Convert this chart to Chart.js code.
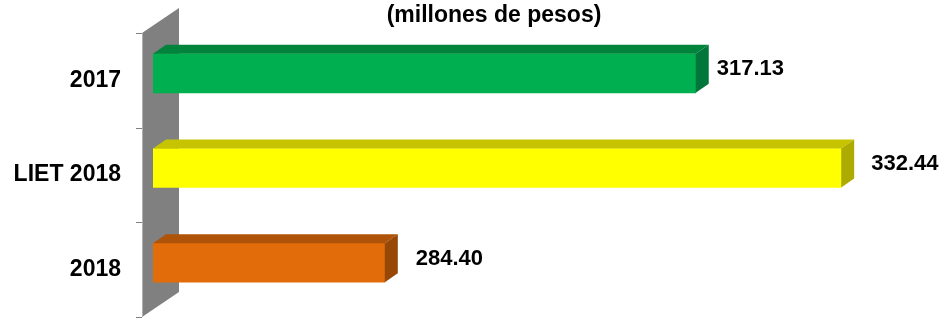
<!DOCTYPE html>
<html lang="es">
<head>
    <meta charset="UTF-8">
    <title>Comparativo (millones de pesos)</title>
    <script src="https://cdn.jsdelivr.net/npm/chart.js"></script>
    <style>
        body {
            margin: 0;
            background-color: #ffffff;
        }
        canvas {
            display: block;
        }
    </style>
</head>
<body>
    <canvas id="myChart" width="940" height="318"></canvas>

    <script>
        // Datos
        const categorias = ['2017', 'LIET 2018', '2018'];
        const montos = [317.13, 332.44, 284.40];
        const titulo = '(millones de pesos)';

        // Colores por barra: cara frontal, cara superior, cara lateral
        const coloresFrente = ['#00B050', '#FFFF00', '#E36C0A'];
        const coloresArriba = ['#00843C', '#C6C400', '#AF5308'];
        const coloresLado = ['#00763A', '#ADAB00', '#974806'];

        const fuente = 'Arial, "Liberation Sans", sans-serif';
        const prof = { dx: 13, dy: 9 };        // profundidad de las barras
        const pared = { dx: 37, dy: 25 };      // profundidad de la pared gris
        const desplazo = { dx: 11, dy: 7 };    // de la cara frontal al plano del eje
        const separacionEtiqueta = [21, 30, 31];

        const efecto3D = {
            id: 'efecto3D',
            // Pared gris, marcas del eje y titulo (antes de las barras)
            beforeDatasetsDraw(chart) {
                const ctx = chart.ctx;
                const area = chart.chartArea;
                const x0 = area.left - desplazo.dx;
                const yTop = area.top + desplazo.dy;
                const yBot = area.bottom + desplazo.dy;

                ctx.save();
                ctx.fillStyle = '#808080';
                ctx.beginPath();
                ctx.moveTo(x0, yTop);
                ctx.lineTo(x0 + pared.dx, yTop - pared.dy);
                ctx.lineTo(x0 + pared.dx, yBot - pared.dy);
                ctx.lineTo(x0, yBot);
                ctx.closePath();
                ctx.fill();

                ctx.strokeStyle = '#b0b0b0';
                ctx.lineWidth = 1;
                ctx.beginPath();
                ctx.moveTo(x0 + 0.5, yTop);
                ctx.lineTo(x0 + 0.5, yBot);
                ctx.stroke();

                // marcas entre categorías
                const n = categorias.length;
                const paso = (yBot - yTop) / n;
                ctx.strokeStyle = '#7f7f7f';
                for (let i = 0; i <= n; i++) {
                    const y = Math.round(yTop + i * paso) + 0.5;
                    ctx.beginPath();
                    ctx.moveTo(x0 - 6, y);
                    ctx.lineTo(x0, y);
                    ctx.stroke();
                }

                // titulo
                ctx.fillStyle = '#000000';
                ctx.font = 'bold 23px ' + fuente;
                ctx.textAlign = 'center';
                ctx.textBaseline = 'alphabetic';
                ctx.fillText(titulo, 494, 22);
                ctx.restore();
            },
            afterDatasetsDraw(chart) {
                const ctx = chart.ctx;
                const area = chart.chartArea;
                const meta = chart.getDatasetMeta(0);
                ctx.save();
                meta.data.forEach((bar, i) => {
                    const left = Math.max(bar.base, area.left);
                    const right = bar.x;
                    const top = bar.y - bar.height / 2;
                    const bottom = bar.y + bar.height / 2;

                    // cara superior
                    ctx.fillStyle = coloresArriba[i];
                    ctx.beginPath();
                    ctx.moveTo(left, top);
                    ctx.lineTo(left + prof.dx, top - prof.dy);
                    ctx.lineTo(right + prof.dx, top - prof.dy);
                    ctx.lineTo(right, top);
                    ctx.closePath();
                    ctx.fill();

                    // cara lateral
                    ctx.fillStyle = coloresLado[i];
                    ctx.beginPath();
                    ctx.moveTo(right, top);
                    ctx.lineTo(right + prof.dx, top - prof.dy);
                    ctx.lineTo(right + prof.dx, bottom - prof.dy);
                    ctx.lineTo(right, bottom);
                    ctx.closePath();
                    ctx.fill();

                    // etiqueta de valor
                    ctx.fillStyle = '#000000';
                    ctx.font = 'bold 22px ' + fuente;
                    ctx.textAlign = 'left';
                    ctx.textBaseline = 'middle';
                    ctx.fillText(montos[i].toFixed(2), right + separacionEtiqueta[i], bar.y - 4);
                });
                ctx.restore();
            }
        };

        const ctx = document.getElementById('myChart').getContext('2d');
        const myChart = new Chart(ctx, {
            type: 'bar',
            data: {
                labels: categorias,
                datasets: [{
                    data: montos,
                    backgroundColor: coloresFrente,
                    borderWidth: 0,
                    barThickness: 39
                }]
            },
            options: {
                indexAxis: 'y',
                responsive: false,
                animation: false,
                devicePixelRatio: 1,
                layout: {
                    padding: { left: 0, right: 27, top: 26, bottom: 8 }
                },
                plugins: {
                    legend: { display: false },
                    tooltip: { enabled: false },
                    title: { display: false }
                },
                scales: {
                    x: {
                        display: false,
                        min: 260,
                        max: 340
                    },
                    y: {
                        grid: { display: false, drawTicks: false },
                        border: { display: false },
                        ticks: {
                            color: '#000000',
                            font: { family: fuente, size: 23, weight: 'bold' },
                            padding: 32,
                            labelOffset: 7
                        },
                        afterFit: function(scale) {
                            scale.width = 153;
                            scale.paddingTop = 0;
                            scale.paddingBottom = 0;
                        }
                    }
                }
            },
            plugins: [efecto3D]
        });
    </script>
</body>
</html>
